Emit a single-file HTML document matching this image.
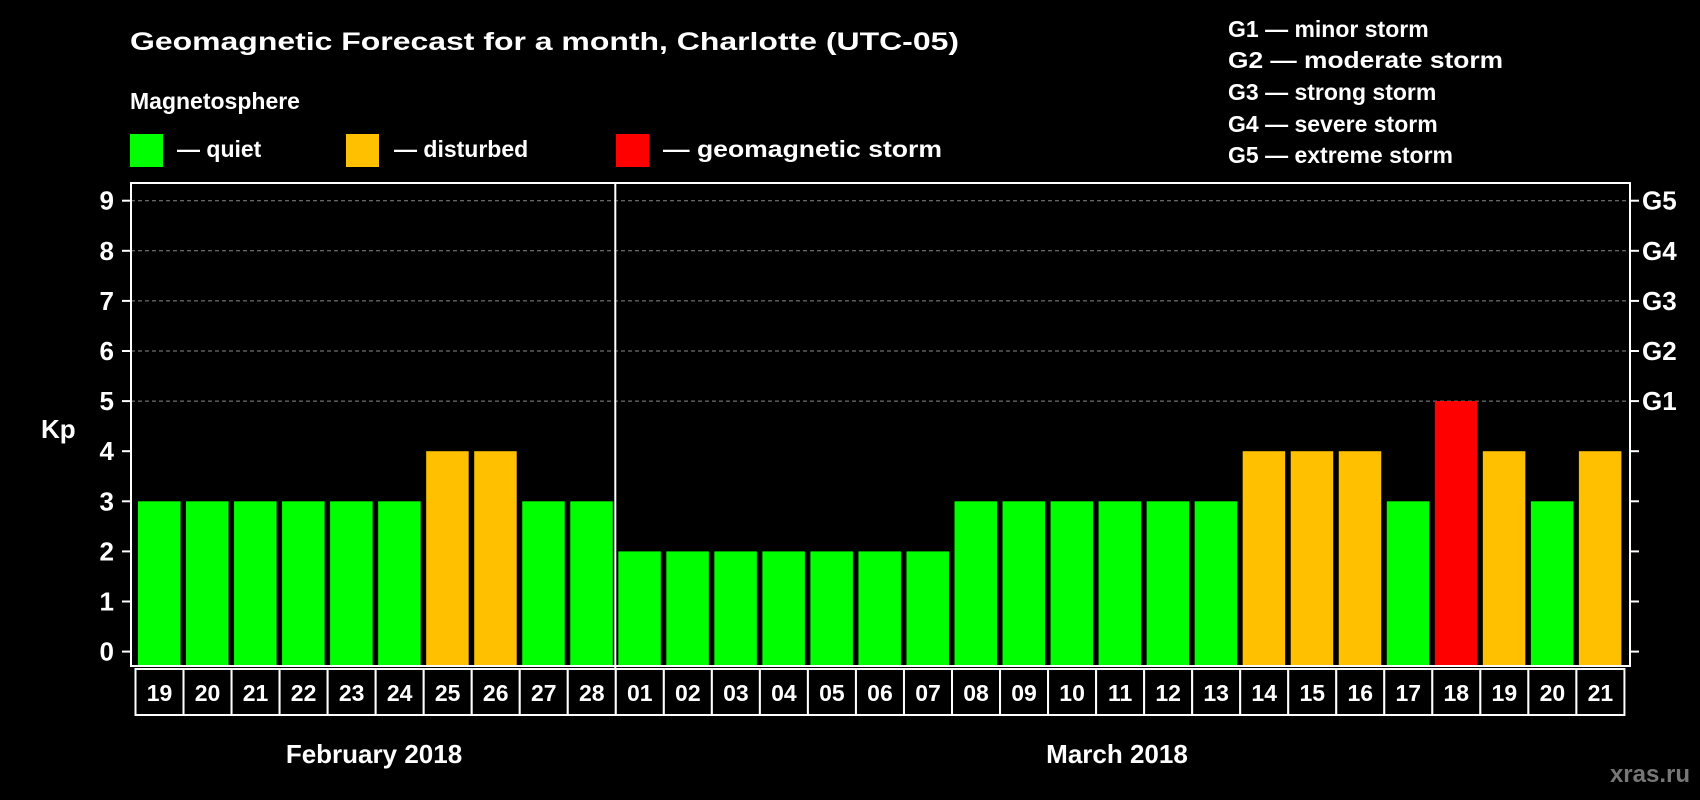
<!DOCTYPE html>
<html><head><meta charset="utf-8"><style>
html,body{margin:0;padding:0;background:#000;}
svg{display:block;font-family:"Liberation Sans",Arial,sans-serif;font-weight:bold;}
</style></head><body>
<svg id="chart" width="1700" height="800" viewBox="0 0 1700 800" xmlns="http://www.w3.org/2000/svg">
<rect x="0" y="0" width="1700" height="800" fill="#000"/>
<text x="130" y="50" fill="#fff" font-size="25" textLength="829" lengthAdjust="spacingAndGlyphs">Geomagnetic Forecast for a month, Charlotte (UTC-05)</text>
<text x="130" y="109" fill="#fff" font-size="23">Magnetosphere</text>
<rect x="130" y="134" width="33" height="33" fill="#00ff00"/>
<text x="177" y="157" fill="#fff" font-size="23">— quiet</text>
<rect x="346" y="134" width="33" height="33" fill="#ffc000"/>
<text x="394" y="157" fill="#fff" font-size="23">— disturbed</text>
<rect x="616" y="134" width="33" height="33" fill="#ff0000"/>
<text x="663" y="157" fill="#fff" font-size="23" textLength="279" lengthAdjust="spacingAndGlyphs">— geomagnetic storm</text>
<g fill="#fff" font-size="23">
<text x="1228" y="37">G1 — minor storm</text>
<text x="1228" y="68" textLength="275" lengthAdjust="spacingAndGlyphs">G2 — moderate storm</text>
<text x="1228" y="100">G3 — strong storm</text>
<text x="1228" y="132">G4 — severe storm</text>
<text x="1228" y="163">G5 — extreme storm</text>
</g>
<text x="41" y="438" fill="#fff" font-size="26">Kp</text>
<text x="374" y="763" fill="#fff" font-size="26" text-anchor="middle">February 2018</text>
<text x="1117" y="763" fill="#fff" font-size="26" text-anchor="middle">March 2018</text>
<text x="1690" y="782" fill="#777" font-size="24" text-anchor="end">xras.ru</text>
<g id="plot"></g>
</svg>
<script>
const days = ["19","20","21","22","23","24","25","26","27","28","01","02","03","04","05","06","07","08","09","10","11","12","13","14","15","16","17","18","19","20","21"];
const kpValues = [3,3,3,3,3,3,4,4,3,3,2,2,2,2,2,2,2,3,3,3,3,3,3,4,4,4,3,5,4,3,4];
const yTicks = [0,1,2,3,4,5,6,7,8,9];
const gLabels = ["G1","G2","G3","G4","G5"];
const gLevels = [5,6,7,8,9];
const monthSplitIndex = 10;

const NS = "http://www.w3.org/2000/svg";
const plot = document.getElementById("plot");
const L = 131, R = 1630, T = 183, B = 666;
const cellStart = 135.5, cellW = 48.03;
const y = v => 651.6 - v * 50.1;
const xCell = i => cellStart + i * cellW;
function mk(tag, attrs) { const e = document.createElementNS(NS, tag); for (const k in attrs) e.setAttribute(k, attrs[k]); plot.appendChild(e); return e; }
function color(v) { return v >= 5 ? "#ff0000" : (v >= 4 ? "#ffc000" : "#00ff00"); }

// gridlines
gLevels.forEach(v => {
  const g = mk("line", {x1: L, x2: R, y1: y(v), y2: y(v), stroke: "#888", "stroke-width": 1, "stroke-dasharray": "4,3"});
  
  
});
// bars
kpValues.forEach((v, i) => {
  const b = mk("rect", {x: xCell(i) + 2.5, y: y(v), width: 42.5, height: B - 1 - y(v), fill: color(v)});
  
  
});
// frame
const fr = mk("rect", {x: L, y: T, width: R - L, height: B - T, fill: "none", stroke: "#fff", "stroke-width": 2});


const dv = mk("line", {x1: xCell(monthSplitIndex) - 0.5, x2: xCell(monthSplitIndex) - 0.5, y1: T, y2: 716, stroke: "#fff", "stroke-width": 2});


// y ticks
yTicks.forEach(v => {
  const t = mk("line", {x1: 122, x2: L, y1: y(v), y2: y(v), stroke: "#fff", "stroke-width": 2});
  
  
  const t2 = mk("line", {x1: R, x2: 1639, y1: y(v), y2: y(v), stroke: "#fff", "stroke-width": 2});
  
  
  const lb = mk("text", {x: 114, y: y(v) + 9, fill: "#fff", "font-size": 26, "text-anchor": "end"});
  lb.textContent = v;
  
  
});
gLevels.forEach((v, i) => {
  const lb = mk("text", {x: 1642, y: y(v) + 9, fill: "#fff", "font-size": 26});
  lb.textContent = gLabels[i];
  
  
});
// day cells
days.forEach((d, i) => {
  const c = mk("rect", {x: xCell(i), y: 669, width: cellW, height: 46, fill: "#000", stroke: "#fff", "stroke-width": 2});
  
  
  const t = mk("text", {x: xCell(i) + cellW / 2, y: 701, fill: "#fff", "font-size": 23, "text-anchor": "middle"});
  t.textContent = d;
  
  
});
</script>
</body></html>
